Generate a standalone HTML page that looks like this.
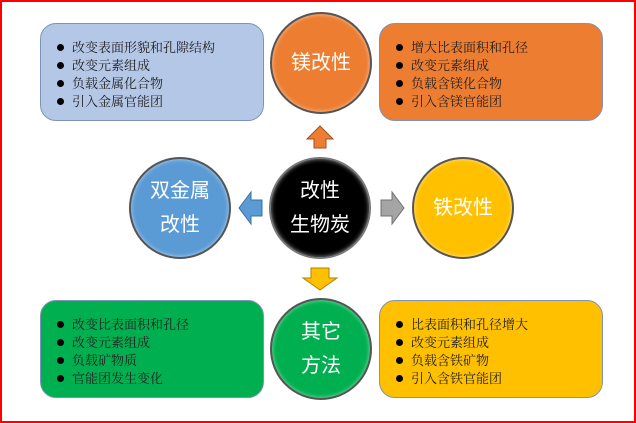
<!DOCTYPE html>
<html><head><meta charset="utf-8"><style>
body{margin:0;width:636px;height:423px;background:#fff;position:relative;overflow:hidden;font-family:"Liberation Serif","Noto Serif CJK SC",serif}
.frame{position:absolute;left:0;top:0;width:632px;height:419px;border:2px solid #f00}
.box{position:absolute;width:224px;height:98px;border-radius:16px;border:1px solid #7f93b8;box-sizing:border-box;padding:15px 0 0 14px;font-size:13px;line-height:18px;color:#222}
.box div{position:relative;padding-left:17px;white-space:nowrap}
.box div:before{content:"";position:absolute;left:2px;top:5px;width:7px;height:7px;border-radius:50%;background:#000}
.c{position:absolute;width:102px;height:102px;border-radius:50%;box-sizing:border-box;border:2px solid #555;color:#fff;font-family:"Liberation Sans","Noto Sans CJK SC",sans-serif;font-size:20px;display:flex;align-items:center;justify-content:center;text-align:center;line-height:34px;box-shadow:inset 0 0 4px rgba(255,255,255,.6)}
</style></head><body>
<div class="frame"></div>
<div class="box" style="left:40px;top:23px;background:#b4c7e7">
<div>改变表面形貌和孔隙结构</div><div>改变元素组成</div><div>负载金属化合物</div><div>引入金属官能团</div></div>
<div class="box" style="left:379px;top:23px;background:#ed7d31">
<div>增大比表面积和孔径</div><div>改变元素组成</div><div>负载含镁化合物</div><div>引入含镁官能团</div></div>
<div class="box" style="left:40px;top:300px;background:#00b050">
<div>改变比表面积和孔径</div><div>改变元素组成</div><div>负载矿物质</div><div>官能团发生变化</div></div>
<div class="box" style="left:379px;top:300px;background:#ffc000">
<div>比表面积和孔径增大</div><div>改变元素组成</div><div>负载含铁矿物</div><div>引入含铁官能团</div></div>
<div class="c" style="left:270px;top:12px;background:#ed7d31">镁改性</div>
<div class="c" style="left:269px;top:157px;background:#000;border-color:#777">改性<br>生物炭</div>
<div class="c" style="left:129px;top:157px;background:#5b9bd5">双金属<br>改性</div>
<div class="c" style="left:412px;top:157px;background:#ffc000">铁改性</div>
<div class="c" style="left:270px;top:298px;background:#00b050">其它<br>方法</div>
<svg style="position:absolute;left:0;top:0" width="636" height="423">
<polygon points="320,126 333,139 326,139 326,148 314,148 314,139 307,139" fill="#ed7d31" stroke="#a05020"/>
<polygon points="239,208 251,192 251,200 262,200 262,216 251,216 251,224" fill="#5b9bd5" stroke="#3a6fa0"/>
<polygon points="404,208 392,192 392,200 381,200 381,216 392,216 392,224" fill="#a5a5a5" stroke="#707070"/>
<polygon points="320,290 303,278 311,278 311,268 329,268 329,278 337,278" fill="#ffc000" stroke="#b08000"/>
</svg>
</body></html>
